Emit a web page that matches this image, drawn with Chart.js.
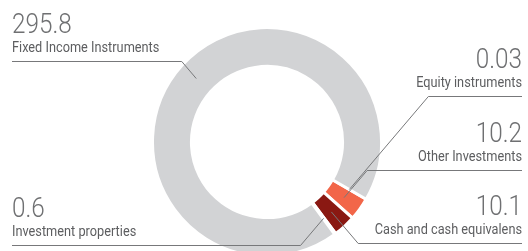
<!DOCTYPE html>
<html>
<head>
<meta charset="utf-8">
<script src="https://cdn.jsdelivr.net/npm/chart.js@4.4.1/dist/chart.umd.min.js"></script>
<style>
    html, body { margin: 0; padding: 0; background: #ffffff; overflow: hidden; }
    #grafico-rosca { display: block; }
</style>
</head>
<body>
<canvas id="grafico-rosca" width="528" height="251"></canvas>
<script>
// Dados do gráfico (ordem no sentido horário a partir da fatia "Equity")
const categorias = ['Equity instruments', 'Other Investments', 'Cash and cash equivalens', 'Investment properties', 'Fixed Income Instruments'];
const valores = [0.03, 10.2, 10.1, 0.6, 295.8];
const rotulosValores = ['0.03', '10.2', '10.1', '0.6', '295.8'];
const cores = ['#f26649', '#f26649', '#8a1812', '#d2d3d5', '#d2d3d5'];

// Posição dos rótulos (lado e linha de base do número)
const lados = ['right', 'right', 'right', 'left', 'left'];
const basesY = [68, 142, 215, 217, 33];

const corNumero = '#6f7072';
const corTexto = '#5d5e60';
const corLinha = '#77787a';

const rotulosPlugin = {
    id: 'rotulos',
    afterDraw(chart) {
        const ctx = chart.ctx;
        const meta = chart.getDatasetMeta(0);
        ctx.save();
        meta.data.forEach((arco, i) => {
            const p = arco.getProps(['x', 'y', 'startAngle', 'endAngle', 'innerRadius', 'outerRadius'], true);
            const meio = (p.startAngle + p.endAngle) / 2;
            const r = (p.innerRadius + p.outerRadius) / 2;
            const px = p.x + Math.cos(meio) * r;
            const py = p.y + Math.sin(meio) * r;
            const direita = lados[i] === 'right';
            const xTexto = direita ? 522 : 12;
            const yNum = basesY[i];
            const yLinha = Math.round(yNum + 28) + 0.5;
            const dy = Math.abs(yLinha - py);
            const cotovelo = direita ? px + dy * 0.85 : px - dy * 0.85;

            // linha guia
            ctx.strokeStyle = corLinha;
            ctx.lineWidth = 1;
            ctx.beginPath();
            ctx.moveTo(xTexto, yLinha);
            ctx.lineTo(cotovelo, yLinha);
            ctx.lineTo(px, py);
            ctx.stroke();

            // número
            ctx.textAlign = direita ? 'right' : 'left';
            ctx.textBaseline = 'alphabetic';
            ctx.fillStyle = corNumero;
            ctx.font = '300 27px Roboto';
            ctx.save();
            ctx.translate(xTexto, yNum);
            ctx.scale(0.9, 1);
            ctx.fillText(rotulosValores[i], 0, 0);
            ctx.restore();

            // categoria
            ctx.fillStyle = corTexto;
            ctx.font = '400 15px Roboto';
            ctx.save();
            ctx.translate(xTexto, yNum + 19);
            ctx.scale(0.85, 1);
            ctx.fillText(categorias[i], 0, 0);
            ctx.restore();
        });
        ctx.restore();
    }
};

function gerarGraficoRosca() {
    const rosca = document.getElementById('grafico-rosca');
    new Chart(rosca, {
        type: 'doughnut',
        data: {
            labels: categorias,
            datasets: [{
                data: valores,
                backgroundColor: cores,
                borderColor: '#ffffff',
                borderWidth: 3,
                radius: 114.5,
                cutout: '66%'
            }]
        },
        options: {
            responsive: false,
            animation: false,
            rotation: 120,
            layout: {
                padding: { left: 6, top: 33, right: 0, bottom: 0 }
            },
            plugins: {
                legend: { display: false },
                tooltip: { enabled: false }
            }
        },
        plugins: [rotulosPlugin]
    });
}

gerarGraficoRosca();
</script>
</body>
</html>
